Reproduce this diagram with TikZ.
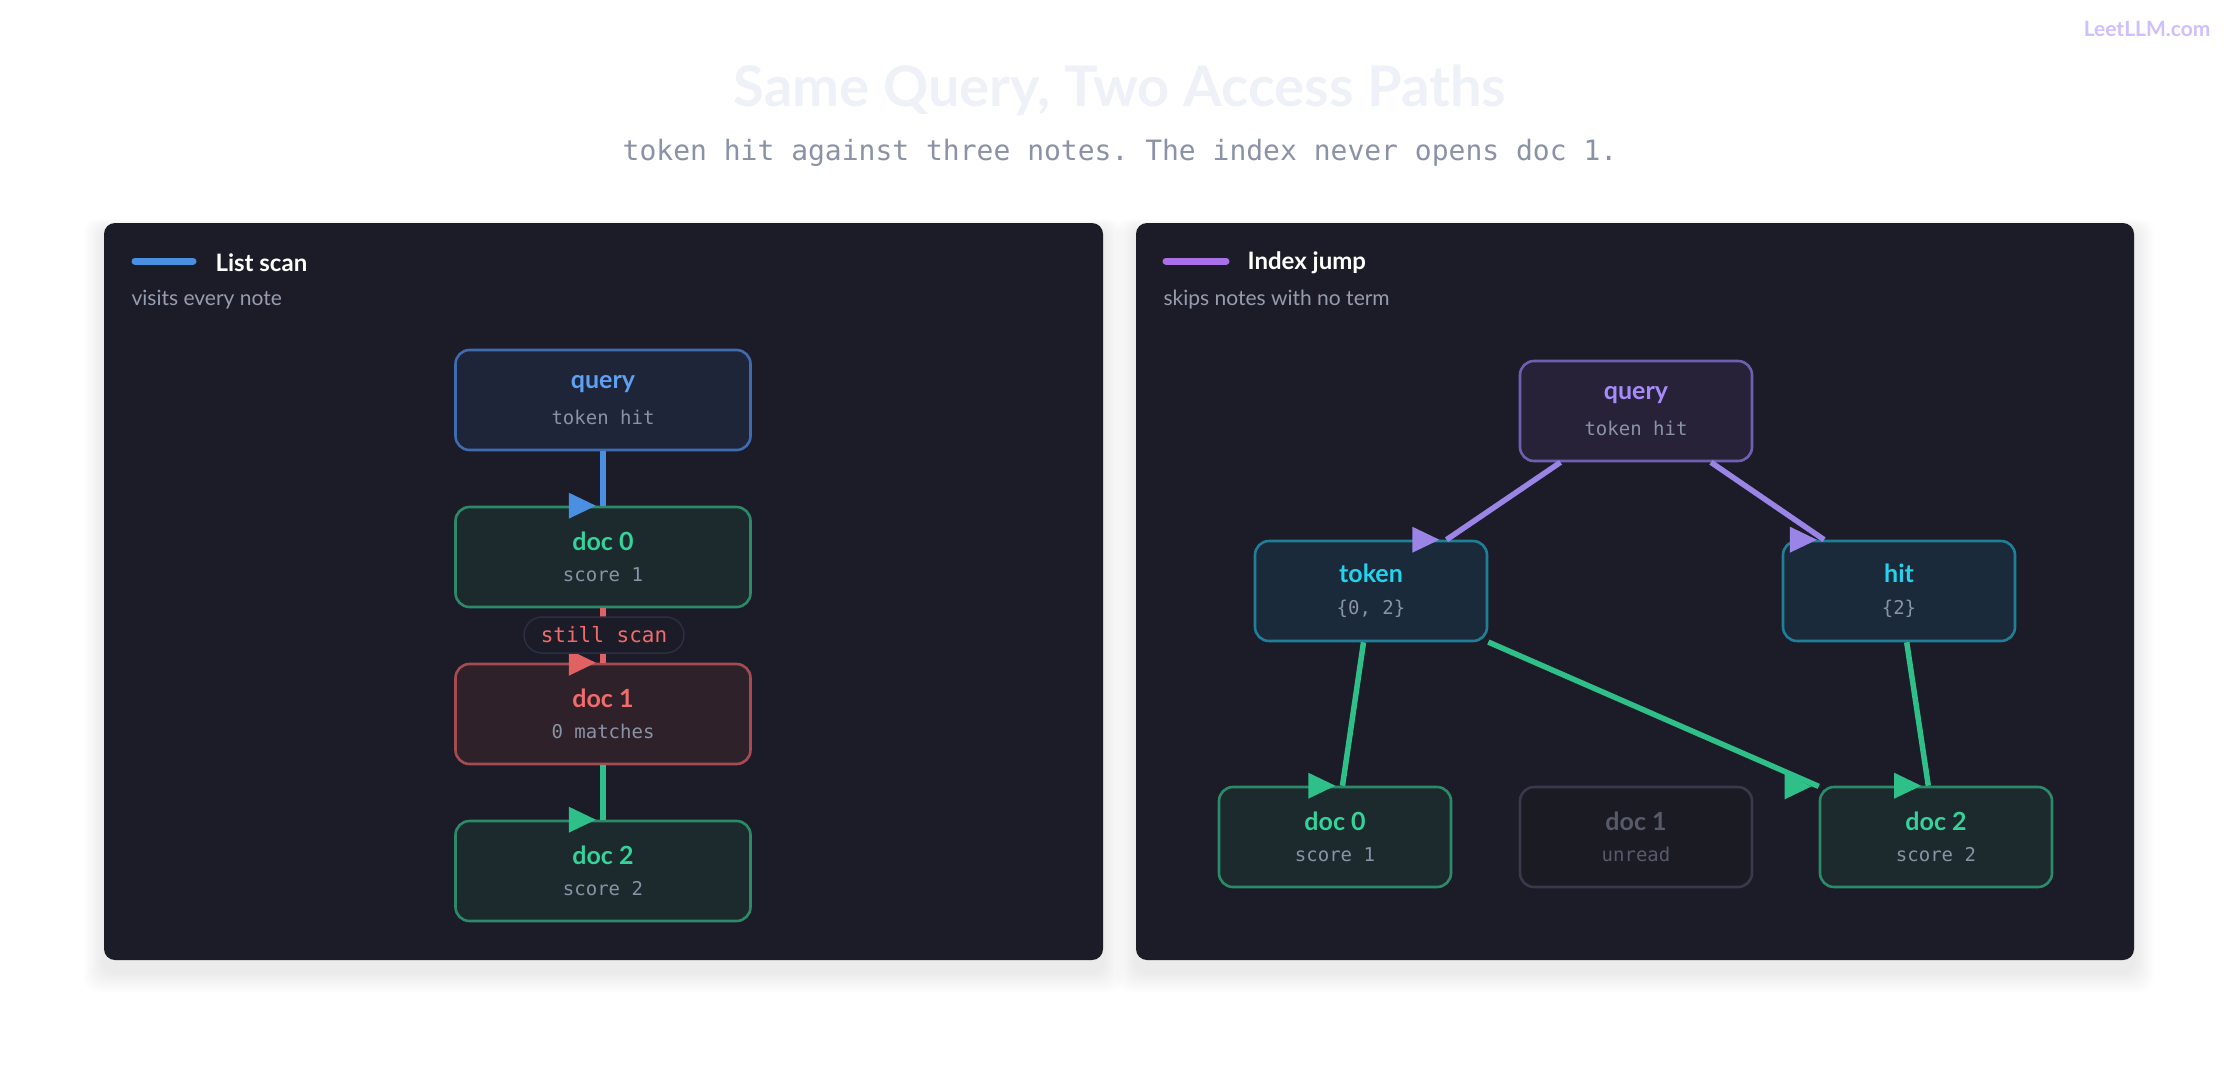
\documentclass[tikz,border=0pt]{standalone}
\usepackage{fontspec}
\setmainfont{Lato}
\setmonofont{DejaVu Sans Mono}
\usetikzlibrary{shapes.geometric}
\definecolor{panel}{HTML}{1C1C28}
\definecolor{sub}{HTML}{8A92A6}
\definecolor{ttl}{HTML}{EEF2F8}
\definecolor{pill}{HTML}{2A2F42}
\definecolor{bq}{HTML}{1F2539}\definecolor{bqb}{HTML}{3F6BB0}\definecolor{bqt}{HTML}{5EA0F2}
\definecolor{gf}{HTML}{1C2A2E}\definecolor{gb}{HTML}{2C8A68}\definecolor{gt}{HTML}{34D399}
\definecolor{rf}{HTML}{2E2129}\definecolor{rb}{HTML}{A44C52}\definecolor{rt}{HTML}{F26B6B}
\definecolor{pf}{HTML}{272238}\definecolor{pb}{HTML}{6F5FB0}\definecolor{pt}{HTML}{A78BFA}
\definecolor{cf}{HTML}{1B2A3A}\definecolor{cb}{HTML}{1E7F96}\definecolor{ct}{HTML}{22D3EE}
\definecolor{nf}{HTML}{1B1B24}\definecolor{nb}{HTML}{363A4A}\definecolor{nt}{HTML}{555B6B}
\definecolor{ab}{HTML}{4A90E2}\definecolor{ar}{HTML}{E06262}\definecolor{ag}{HTML}{2FBF88}\definecolor{ap}{HTML}{9A84E6}
\begin{document}
\begin{tikzpicture}[x=1pt,y=-1pt,
  box/.style={draw,line width=2.6pt,rounded corners=14pt,minimum width=295pt,minimum height=100pt,inner sep=0pt,align=center},
  rbox/.style={box,minimum width=232pt},
  tip/.style={isosceles triangle,isosceles triangle stretches,minimum width=26pt,minimum height=27pt,inner sep=0pt,anchor=apex,fill=#1,draw=none,pos=1},
  edge/.style={line width=5.5pt,draw=#1},
  panelbox/.style={fill=panel,rounded corners=11pt},
  hd/.style={font=\fontsize{24}{24}\selectfont\bfseries,text=white,anchor=west},
  hs/.style={font=\fontsize{21}{21}\selectfont,text=sub!90!white,anchor=west}]
\useasboundingbox[fill=white] (0,0) rectangle (2240,1080);
\foreach \i in {1,...,10}{
  \fill[black,opacity=0.006,rounded corners=14pt] (104-2*\i,223-\i+6) rectangle (1103+2*\i,960+12+2*\i);
  \fill[black,opacity=0.006,rounded corners=14pt] (1136-2*\i,223-\i+6) rectangle (2134+2*\i,960+12+2*\i);}
\node[font=\fontsize{56}{56}\selectfont\bfseries,text=ttl] (title) at (1120,90) {Same Query, Two Access Paths};
\node[font=\fontsize{28}{28}\selectfont\ttfamily,text=sub] (subt) at (1120,153) {token hit against three notes. The index never opens doc 1.};
\node[font=\fontsize{21}{21}\selectfont\bfseries,text=pt!55!white,anchor=east] (logo) at (2214,29) {LeetLLM.com};
\fill[panelbox] (104,223) rectangle (1103,960);
\fill[panelbox] (1136,223) rectangle (2134,960);
\draw[line width=7pt,line cap=round,ab] (135,261) -- (193,261);
\node[hd] (h1) at (212,263) {List scan};
\node[hs] (s1) at (128,300) {visits every note};
\draw[line width=7pt,line cap=round,ap!85!magenta] (1166,261) -- (1226,261);
\node[hd] (h2) at (1244,263) {Index jump};
\node[hs] (s2) at (1160,300) {skips notes with no term};
\def\nd#1#2#3{{\fontsize{25}{25}\selectfont\bfseries\color{#1}#2}\\[16pt]{\fontsize{19}{19}\selectfont\ttfamily\color{sub}#3}}
% left
\node[box,fill=bq,draw=bqb] (lq) at (603,400) {\nd{bqt}{query}{token hit}};
\node[box,fill=gf,draw=gb] (l0) at (603,557) {\nd{gt}{doc 0}{score 1}};
\node[box,fill=rf,draw=rb] (l1) at (603,714) {\nd{rt}{doc 1}{0 matches}};
\node[box,fill=gf,draw=gb] (l2) at (603,871) {\nd{gt}{doc 2}{score 2}};
\draw[edge=ab] (lq) -- node[tip=ab]{} (l0);
\draw[edge=ar] (l0) -- node[tip=ar]{} (l1);
\draw[edge=ag] (l1) -- node[tip=ag]{} (l2);
\node[draw=pill,line width=1.5pt,fill=panel,rounded corners=18pt,minimum width=160pt,minimum height=36pt,font=\fontsize{21}{21}\selectfont\ttfamily,text=rt] (lbl) at (604,635) {still scan};
% right
\node[rbox,fill=pf,draw=pb] (rq) at (1636,411) {\nd{pt}{query}{token hit}};
\node[rbox,fill=cf,draw=cb] (rt) at (1371,591) {\nd{ct}{token}{\{0, 2\}}};
\node[rbox,fill=cf,draw=cb] (rh) at (1899,591) {\nd{ct}{hit}{\{2\}}};
\node[rbox,fill=gf,draw=gb] (r0) at (1335,837) {\nd{gt}{doc 0}{score 1}};
\node[rbox,fill=nf,draw=nb] (r1) at (1636,837) {{\fontsize{25}{25}\selectfont\bfseries\color{nt}doc 1}\\[16pt]{\fontsize{19}{19}\selectfont\ttfamily\color{nt}unread}};
\node[rbox,fill=gf,draw=gb] (r2) at (1936,837) {\nd{gt}{doc 2}{score 2}};
\draw[edge=ap] (rq) -- node[tip=ap]{} (rt);
\draw[edge=ap] (rq) -- node[tip=ap]{} (rh);
\draw[edge=ag] (rt) -- node[tip=ag]{} (r0);
\draw[edge=ag] (rt) -- node[tip=ag]{} (r2);
\draw[edge=ag] (rh) -- node[tip=ag]{} (r2);
\end{tikzpicture}
\end{document}
